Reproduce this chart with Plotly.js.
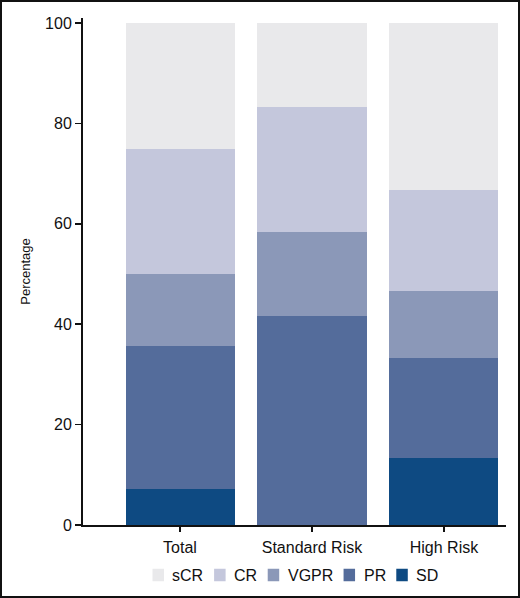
<!DOCTYPE html>
<html>
<head>
<meta charset="utf-8">
<script src="https://cdn.plot.ly/plotly-3.0.1.min.js"></script>
<style>
  html, body { margin: 0; padding: 0; background: #fff; }
  #wrap { position: relative; width: 520px; height: 598px; }
  #chart { width: 520px; height: 598px; }
  #frame { position: absolute; left: 0; top: 0; width: 520px; height: 598px;
           box-sizing: border-box; border: 2px solid #111; pointer-events: none; }
</style>
</head>
<body>
<div id="wrap">
  <div id="chart"></div>
  <div id="frame"></div>
</div>
<script>
var groups = ['Total', 'Standard Risk', 'High Risk'];

// percent of patients per response, bottom of stack first
var sd   = [7.1, 0, 13.3];
var pr   = [28.6, 41.7, 20.0];
var vgpr = [14.3, 16.6, 13.4];
var cr   = [25.0, 25.0, 20.0];
var scr  = [25.0, 16.7, 33.3];

var responses = ['SD', 'PR', 'VGPR', 'CR', 'sCR'];
var colors = ['#0e4a82', '#546c9b', '#8b98b8', '#c4c7dc', '#e9e9eb'];
var series = [sd, pr, vgpr, cr, scr];

var FONT = 'Arial, "Liberation Sans", sans-serif';
var W = 520, H = 598;
var M = {l: 83, r: 14, t: 18, b: 73};
var plotW = W - M.l - M.r, plotH = H - M.t - M.b;

var data = series.map(function(vals, i) {
  return {
    x: groups,
    y: vals,
    type: 'bar',
    name: responses[i],
    marker: {color: colors[i], line: {width: 0}}
  };
});

// legend drawn by hand so the entries sit as tight as in the figure
var ctx = document.createElement('canvas').getContext('2d');
ctx.font = '16px ' + FONT;
var box = 11.5, boxGap = 6.5, itemGap = 12.5;
var order = responses.slice().reverse();
var total = 0;
order.forEach(function(name, i) {
  total += box + boxGap + ctx.measureText(name).width + (i < order.length - 1 ? itemGap : 0);
});
var legendY = 575;
var px = M.l + plotW / 2 - total / 2;
var shapes = [], annotations = [];
function xp(v) { return (v - M.l) / plotW; }
function yp(v) { return (M.t + plotH - v) / plotH; }
order.forEach(function(name) {
  var c = colors[responses.indexOf(name)];
  shapes.push({
    type: 'rect', xref: 'paper', yref: 'paper',
    x0: xp(px), x1: xp(px + box),
    y0: yp(legendY - box / 2 - 0.5), y1: yp(legendY + box / 2 + 0.5),
    fillcolor: c, line: {width: 0}
  });
  px += box + boxGap;
  annotations.push({
    xref: 'paper', yref: 'paper',
    x: xp(px), y: yp(legendY),
    xanchor: 'left', yanchor: 'middle',
    text: name, showarrow: false,
    font: {size: 16, color: '#111'}
  });
  px += ctx.measureText(name).width + itemGap;
});

var layout = {
  width: W,
  height: H,
  barmode: 'stack',
  bargap: 0.174,
  margin: M,
  paper_bgcolor: '#fff',
  plot_bgcolor: '#fff',
  font: {family: FONT, color: '#111', size: 16},
  showlegend: false,
  shapes: shapes,
  annotations: annotations,
  xaxis: {
    range: [-0.735, 2.47],
    automargin: false,
    showline: true,
    linecolor: '#111',
    linewidth: 2,
    ticks: 'outside',
    ticklen: 5,
    tickwidth: 1.5,
    tickcolor: '#111',
    ticklabelstandoff: 2,
    showgrid: false,
    zeroline: false,
    tickfont: {size: 16}
  },
  yaxis: {
    range: [0, 101],
    automargin: false,
    tickvals: [0, 20, 40, 60, 80, 100],
    showline: true,
    linecolor: '#111',
    linewidth: 2,
    ticks: 'outside',
    ticklen: 6,
    tickwidth: 1.5,
    tickcolor: '#111',
    showgrid: false,
    zeroline: false,
    tickfont: {size: 16},
    title: {text: 'Percentage', font: {size: 13}, standoff: 12}
  }
};

Plotly.newPlot('chart', data, layout, {displayModeBar: false, staticPlot: true});
</script>
</body>
</html>
